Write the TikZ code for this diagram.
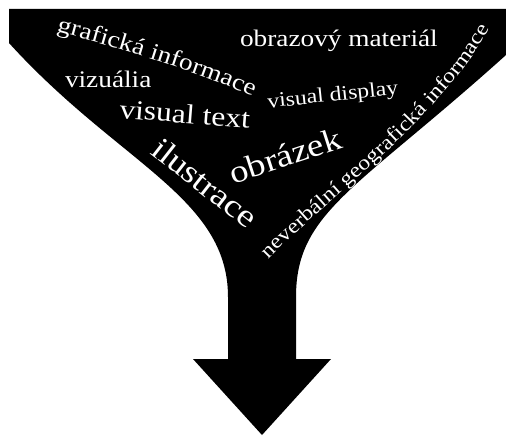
\documentclass[tikz,border=0pt]{standalone}
\usepackage{fontspec}
\setmainfont{Liberation Serif}[FakeStretch=1.15]
\usetikzlibrary{decorations.text}
\begin{document}
\begin{tikzpicture}[x=0.75pt,y=0.75pt,
  word/.style={text=white, inner sep=0pt, outer sep=0pt, anchor=base west},
  fa/.style={font=\fontsize{15.5}{18}\selectfont},
  fb/.style={font=\fontsize{17.8}{20}\selectfont},
  fc/.style={font=\fontsize{20.6}{23}\selectfont},
  fd/.style={font=\fontsize{24}{27}\selectfont}]
\useasboundingbox (0,0) rectangle (506,-435);
% funnel with arrow
\fill[black] (9,-9) -- (506,-9) -- (506,-55)
  .. controls (356,-190) and (296,-212) .. (296,-297)
  -- (296,-359) -- (331,-359) -- (262,-435) -- (193,-359) -- (228,-359)
  -- (228,-297) .. controls (228,-197) and (119,-164) .. (9,-43) -- cycle;
% words
\node[word,fb] (obm) at (240,-47) {obrazový materiál};
\node[word,fb] (viz) at (65,-87) {vizuália};
\node[word,fc,rotate=-4.5] (vt) at (119,-118) {visual text};
\node[word,fa,rotate=6] (vd) at (268,-108) {visual display};
\node[word,fd,rotate=18] (obr) at (233,-184) {obrázek};
\node[word,fd,rotate=-38] (ilu) at (149,-153) {ilustrace};
% curved texts
\path[decorate, decoration={text along path, text align=center,
  text={|\fontsize{17.8}{20}\selectfont\color{white}|grafická informace}}]
  (55,-31) .. controls (120,-48) and (200,-73) .. (254,-97);
\path[decorate, decoration={text along path, text align=center,
  text={|\fontsize{15.5}{18}\selectfont\color{white}|neverbální geografická informace}}]
  (268,-260) .. controls (320,-205) and (440,-120) .. (490,-28);
\end{tikzpicture}
\end{document}
